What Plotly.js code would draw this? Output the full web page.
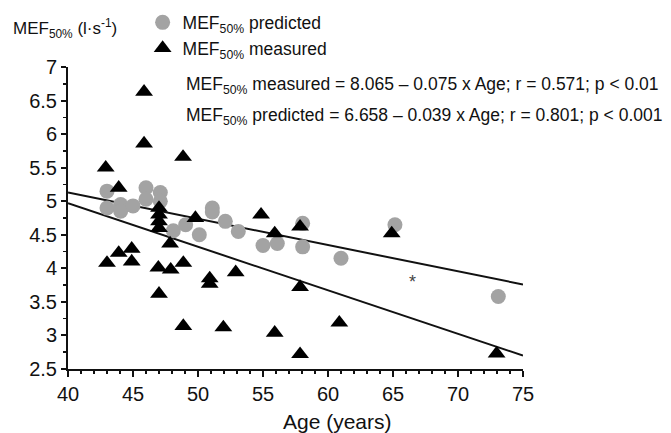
<!DOCTYPE html>
<html><head><meta charset="utf-8">
<script src="https://cdn.plot.ly/plotly-3.0.1.min.js"></script>
<style>html,body{margin:0;padding:0;background:#fff}#c{width:671px;height:433px}</style>
</head><body><div id="c"></div>
<script>
const predAge = [43.0,43.0,44.05,44.05,45.0,46.0,46.0,47.1,47.1,48.1,49.05,50.1,51.1,51.1,52.1,53.1,55.0,56.1,58.05,58.05,61.0,65.15,73.1];
const predMEF = [5.15,4.9,4.95,4.85,4.93,5.2,5.03,5.13,5.0,4.56,4.65,4.5,4.9,4.84,4.7,4.55,4.34,4.37,4.67,4.32,4.15,4.65,3.58];
const measAge = [42.9,43.9,45.85,45.85,48.85,47.0,47.0,47.0,47.0,49.8,47.85,44.9,43.9,43.0,44.9,46.95,47.9,48.87,50.9,50.9,47.0,48.87,51.95,54.85,55.9,57.85,52.9,57.85,55.9,57.85,60.87,64.9,72.97];
const measMEF = [5.5,5.2,6.63,5.86,5.66,4.9,4.8,4.7,4.6,4.75,4.37,4.29,4.23,4.08,4.1,4.01,3.98,4.08,3.85,3.77,3.62,3.14,3.12,4.8,4.52,4.62,3.94,3.72,3.04,2.72,3.19,4.52,2.73];
const fitAge = [40,75];
const fitPred = [5.13,3.76];
const fitMeas = [4.97,2.70];
const starPoint = {x:66.5, y:3.79};
const xTicks = [40,45,50,55,60,65,70,75];
const yTicks = [2.5,3,3.5,4,4.5,5,5.5,6,6.5,7];
const xTitle = 'Age (years)';
const yTitle = 'MEF<sub>50%</sub> (l·s<sup>-1</sup>)';
const eqMeas = 'MEF<sub>50%</sub> measured = 8.065 – 0.075 x Age; r = 0.571; p < 0.01';
const eqPred = 'MEF<sub>50%</sub> predicted = 6.658 – 0.039 x Age; r = 0.801; p < 0.001';

const F = 'Liberation Sans, Arial, sans-serif';
const traces = [
  {x:fitAge, y:fitPred, mode:'lines', line:{color:'#111', width:2}, showlegend:false, hoverinfo:'skip'},
  {x:fitAge, y:fitMeas, mode:'lines', line:{color:'#111', width:2}, showlegend:false, hoverinfo:'skip'},
  {x:predAge, y:predMEF, mode:'markers', name:'MEF<sub>50%</sub> predicted',
   marker:{symbol:'circle', size:15, color:'#a3a3a3'}},
  {x:measAge, y:measMEF, mode:'markers', name:'MEF<sub>50%</sub> measured',
   marker:{symbol:'triangle-up', size:15.5, color:'#000'}}
];
const layout = {
  width:671, height:433,
  margin:{l:68, r:148, t:67, b:64, autoexpand:false},
  paper_bgcolor:'#fff', plot_bgcolor:'#fff',
  font:{family:F, color:'#111', size:17},
  showlegend:true,
  legend:{x:0.164, y:1.207, xanchor:'left', yanchor:'top', bgcolor:'rgba(0,0,0,0)',
          font:{family:F, size:17.5, color:'#111'}, tracegroupgap:0, itemsizing:'trace'},
  xaxis:{range:[40,75], tickvals:xTicks, ticktext:xTicks.map(String), showgrid:false, zeroline:false,
         showline:true, linecolor:'#111', linewidth:2, ticks:'outside', ticklen:6, tickwidth:2, tickcolor:'#111',
         minor:{dtick:1, ticks:'outside', ticklen:3, tickwidth:1.5, tickcolor:'#111', showgrid:false},
         tickfont:{family:F, size:20, color:'#111'}},
  yaxis:{range:[2.5,7], tickvals:yTicks, ticktext:yTicks.map(String), showgrid:false, zeroline:false,
         showline:true, linecolor:'#111', linewidth:2, ticks:'outside', ticklen:5, tickwidth:2, tickcolor:'#111',
         minor:{dtick:0.25, ticks:'outside', ticklen:3, tickwidth:1.5, tickcolor:'#111', showgrid:false},
         tickfont:{family:F, size:20, color:'#111'}},
  annotations:[
    {xref:'paper', yref:'paper', x:0.593, y:-0.174, xanchor:'center', yanchor:'middle', showarrow:false,
     text:xTitle, font:{family:F, size:21, color:'#111'}},
    {xref:'paper', yref:'paper', x:-0.125, y:1.128, xanchor:'left', yanchor:'middle', showarrow:false,
     text:yTitle, font:{family:F, size:17, color:'#111'}},
    {xref:'paper', yref:'paper', x:0.255, y:0.940, xanchor:'left', yanchor:'middle', showarrow:false,
     text:eqMeas, font:{family:F, size:17.5, color:'#111'}},
    {xref:'paper', yref:'paper', x:0.255, y:0.836, xanchor:'left', yanchor:'middle', showarrow:false,
     text:eqPred, font:{family:F, size:17.5, color:'#111'}},
    {x:starPoint.x, y:starPoint.y, xanchor:'center', yanchor:'middle', showarrow:false,
     text:'*', font:{family:F, size:18, color:'#444'}}
  ]
};
Plotly.newPlot('c', traces, layout, {displayModeBar:false, staticPlot:true});
</script></body></html>
